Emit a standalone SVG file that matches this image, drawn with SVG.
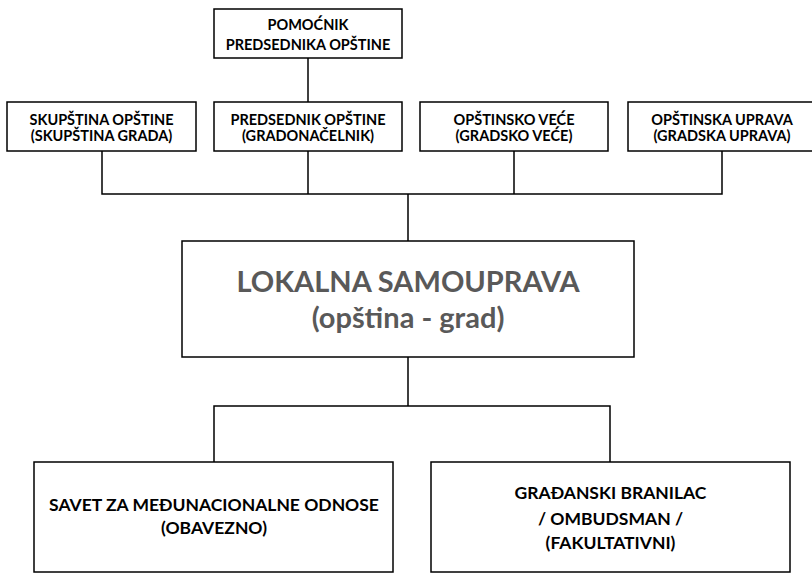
<svg xmlns="http://www.w3.org/2000/svg" width="812" height="573" viewBox="0 0 812 573">
<style>
rect{fill:#fff;stroke:#000;stroke-width:1.5}
.c{fill:none;stroke:#000;stroke-width:1.5}
text{font-family:Lato,"Open Sans","Liberation Sans",sans-serif;font-weight:bold;text-anchor:middle;fill:#000}
.s{font-size:14.5px}
.m{font-size:29px;fill:#595959}
.b{font-size:17.5px}
</style>
<rect x="0" y="0" width="812" height="573" style="stroke:none"/>
<g id="connectors">
<path class="c" d="M308 58V102"/>
<path class="c" d="M102 151V194H722V151M308 151V194M514 151V194M408 194V241"/>
<path class="c" d="M408 357V406M214 462V406H610V462"/>
</g>
<g id="pomocnik"><rect x="214" y="9" width="188" height="49"/><text class="s" x="308" y="30">POMOĆNIK</text><text class="s" x="308" y="50">PREDSEDNIKA OPŠTINE</text></g>
<g id="skupstina"><rect x="7" y="102" width="189" height="49"/><text class="s" x="101.5" y="125">SKUPŠTINA OPŠTINE</text><text class="s" x="101.5" y="141">(SKUPŠTINA GRADA)</text></g>
<g id="predsednik"><rect x="214" y="102" width="188" height="49"/><text class="s" x="308" y="125">PREDSEDNIK OPŠTINE</text><text class="s" x="308" y="141">(GRADONAČELNIK)</text></g>
<g id="vece"><rect x="420" y="102" width="188" height="49"/><text class="s" x="514" y="125">OPŠTINSKO VEĆE</text><text class="s" x="514" y="141">(GRADSKO VEĆE)</text></g>
<g id="uprava"><rect x="628" y="102" width="188" height="49"/><text class="s" x="722" y="125">OPŠTINSKA UPRAVA</text><text class="s" x="722" y="141">(GRADSKA UPRAVA)</text></g>
<g id="lokalna"><rect x="182" y="241" width="452" height="116"/><text class="m" x="408" y="292">LOKALNA SAMOUPRAVA</text><text class="m" x="408" y="328">(opština - grad)</text></g>
<g id="savet"><rect x="34" y="462" width="359" height="110"/><text class="b" x="214" y="511">SAVET ZA MEĐUNACIONALNE ODNOSE</text><text class="b" x="214" y="534">(OBAVEZNO)</text></g>
<g id="gradjanski"><rect x="431" y="462" width="359" height="110"/><text class="b" x="610.5" y="499">GRAĐANSKI BRANILAC</text><text class="b" x="610.5" y="525">/ OMBUDSMAN /</text><text class="b" x="610.5" y="549">(FAKULTATIVNI)</text></g>
</svg>
